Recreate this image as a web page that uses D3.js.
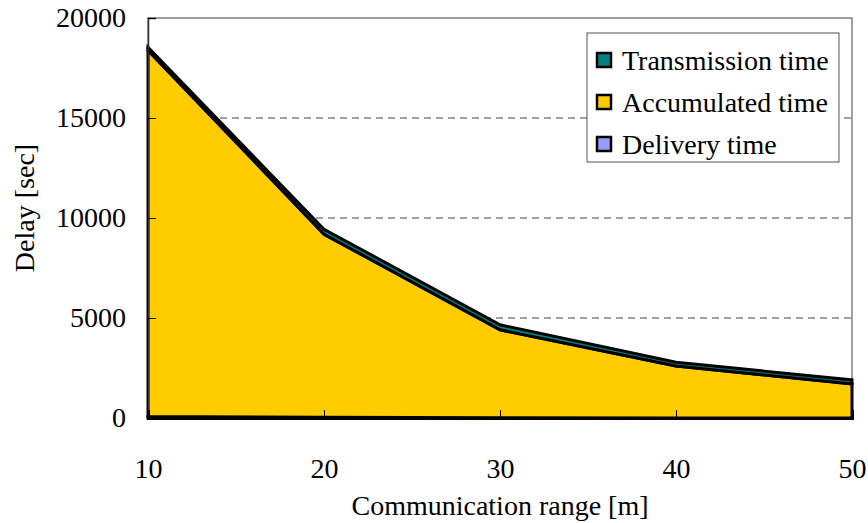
<!DOCTYPE html>
<html><head><meta charset="utf-8">
<script src="https://cdn.jsdelivr.net/npm/d3@7"></script>
<style>body{margin:0;background:#fff}text{font-family:"Liberation Serif","Times New Roman",serif}</style>
</head><body><svg id="c" width="868" height="523"></svg>
<script>
const ranges = [10, 20, 30, 40, 50];
const delivery = [80, 40, 10, 5, 5];
const accumulated = [18300, 9150, 4400, 2600, 1700];
const transmission = [150, 250, 250, 180, 200];
const seriesNames = ["Delivery time", "Accumulated time", "Transmission time"];
const seriesColors = ["#9999ff", "#ffcc00", "#008080"];
const yTicks = [0, 5000, 10000, 15000, 20000];
const gridTicks = [5000, 10000, 15000];

const svg = d3.select("#c");
const m = {l:148, r:852, t:18, b:418};
const x = d3.scaleLinear().domain([10, 50]).range([m.l, m.r]);
const y = d3.scaleLinear().domain([0, 20000]).range([m.b, m.t]);

const rows = ranges.map((r,i)=>({r, d:delivery[i], a:accumulated[i], t:transmission[i]}));
const stack = d3.stack().keys(["d","a","t"]);
const layers = stack(rows);

// plot frame
svg.append("rect").attr("x", m.l).attr("y", m.t).attr("width", m.r-m.l).attr("height", m.b-m.t)
  .attr("fill","none").attr("stroke","#808080").attr("stroke-width",1.5);

// grid
svg.append("g").selectAll("line").data(gridTicks).join("line")
  .attr("x1", m.l).attr("x2", m.r).attr("y1", d=>y(d)).attr("y2", d=>y(d))
  .attr("stroke","#444").attr("stroke-width",1).attr("stroke-dasharray","7,5");

const area = d3.area().x(d=>x(d.data.r)).y0(d=>y(d[0])).y1(d=>y(d[1]));
svg.append("g").selectAll("path").data(layers).join("path")
  .attr("d", area).attr("fill", (d,i)=>seriesColors[i])
  .attr("stroke","#000").attr("stroke-width",3).attr("stroke-linejoin","miter");

// axes
const yAxis = d3.axisLeft(y).tickValues(yTicks).tickSize(-8).tickPadding(22).tickFormat(d3.format("d"));
const gy = svg.append("g").attr("transform",`translate(${m.l},0)`).call(yAxis);
gy.select(".domain").attr("stroke","#333").attr("stroke-width",1.5);
gy.selectAll(".tick line").attr("stroke","#000");
gy.selectAll("text").attr("font-size",28).attr("fill","#000");

const xAxis = d3.axisBottom(x).tickValues(ranges).tickSize(-8).tickPadding(40);
const gx = svg.append("g").attr("transform",`translate(0,${m.b})`).call(xAxis);
gx.select(".domain").attr("stroke","#000").attr("stroke-width",3);
gx.selectAll(".tick line").attr("stroke","#000");
gx.selectAll("text").attr("font-size",28).attr("fill","#000");

svg.append("text").attr("x",500).attr("y",515).attr("text-anchor","middle")
  .attr("font-size",28).text("Communication range [m]");
svg.append("text").attr("transform",`translate(34,208) rotate(-90)`).attr("text-anchor","middle")
  .attr("font-size",28).text("Delay [sec]");

// legend
const lg = svg.append("g");
lg.append("rect").attr("x",587).attr("y",33).attr("width",252).attr("height",129)
  .attr("fill","#fff").attr("stroke","#555").attr("stroke-width",1);
const legendOrder = [2,1,0];
legendOrder.forEach((si,k)=>{
  const cy = 60 + k*42;
  lg.append("rect").attr("x",597).attr("y",cy-7).attr("width",14).attr("height",14)
    .attr("fill",seriesColors[si]).attr("stroke","#000").attr("stroke-width",2.5);
  lg.append("text").attr("x",622).attr("y",cy+10).attr("font-size",28).text(seriesNames[si]);
});
</script></body></html>
